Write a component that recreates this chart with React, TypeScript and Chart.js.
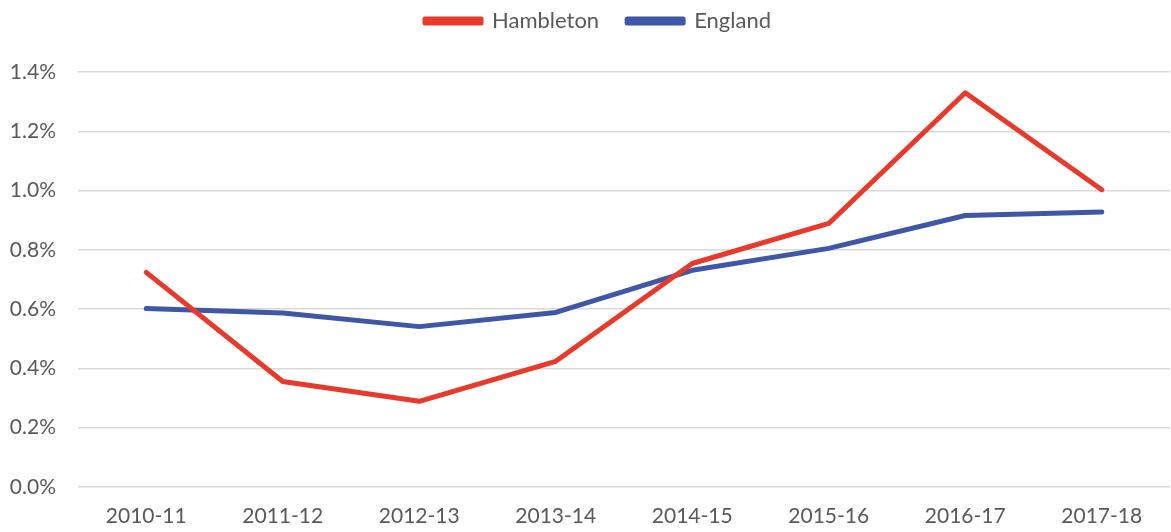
import React, { useEffect, useRef } from "react";
import { Chart, registerables } from "chart.js";

Chart.register(...registerables);

const categories = ["2010-11", "2011-12", "2012-13", "2013-14", "2014-15", "2015-16", "2016-17", "2017-18"];
const hambleton = [0.724, 0.356, 0.289, 0.424, 0.754, 0.889, 1.33, 1.003];
const england = [0.602, 0.587, 0.541, 0.589, 0.731, 0.805, 0.916, 0.928];
const yTicks = [0, 0.2, 0.4, 0.6, 0.8, 1.0, 1.2, 1.4];

const FONT = "Lato, 'Open Sans', sans-serif";
const TEXT = "#595959";
const LEGEND_EXTRA = 12;
const LEGEND_SHIFT_X = 13;
const LEGEND_SHIFT_Y = -18;

const legendSpacer = {
  id: "legendSpacer",
  beforeUpdate(chart: any) {
    const lg = chart.legend;
    if (lg && !lg.__patched) {
      const origFit = lg.fit;
      lg.fit = function () {
        origFit.call(this);
        this.height += LEGEND_EXTRA;
      };
      const origDraw = lg.draw;
      lg.draw = function () {
        const ctx = this.ctx;
        ctx.save();
        ctx.translate(LEGEND_SHIFT_X, LEGEND_SHIFT_Y);
        origDraw.call(this);
        ctx.restore();
      };
      lg.__patched = true;
    }
  },
};

export default function App() {
  const ref = useRef<HTMLCanvasElement>(null);
  useEffect(() => {
    document.body.style.margin = "0";
    const chart = new Chart(ref.current!, {
      type: "line",
      data: {
        labels: categories,
        datasets: [
          {
            label: "Hambleton",
            data: hambleton,
            borderColor: "#E8392A",
            backgroundColor: "#E8392A",
            borderWidth: 5,
            pointRadius: 0,
            tension: 0,
            borderCapStyle: "round",
            borderJoinStyle: "round",
          },
          {
            label: "England",
            data: england,
            borderColor: "#3F57A6",
            backgroundColor: "#3F57A6",
            borderWidth: 5,
            pointRadius: 0,
            tension: 0,
            borderCapStyle: "round",
            borderJoinStyle: "round",
          },
        ],
      },
      options: {
        responsive: false,
        animation: false,
        layout: { padding: { top: 0, right: 1, left: 0, bottom: 0 } },
        plugins: {
          legend: {
            position: "top",
            labels: {
              boxWidth: 56,
              boxHeight: 4,
              padding: 28,
              color: TEXT,
              font: { family: FONT, size: 22 },
            },
          },
          tooltip: { enabled: false },
        },
        scales: {
          x: {
            offset: true,
            grid: { display: false, drawTicks: false },
            border: { display: false },
            ticks: { color: TEXT, font: { family: FONT, size: 21 }, padding: 17, maxRotation: 0 },
            afterFit: (s: any) => { s.height = 45; },
          },
          y: {
            min: 0,
            max: 1.4,
            afterBuildTicks: (s: any) => { s.ticks = yTicks.map((v) => ({ value: v })); },
            grid: { color: "#D9D9D9", lineWidth: 1.5, drawTicks: false },
            border: { display: false },
            ticks: {
              color: TEXT,
              font: { family: FONT, size: 21 },
              padding: 22,
              callback: (v: any) => Number(v).toFixed(1) + "%",
            },
            afterFit: (s: any) => { s.width = 78; },
          },
        },
      },
      plugins: [legendSpacer],
    });
    return () => chart.destroy();
  }, []);
  return <canvas ref={ref} width={1171} height={532} style={{ display: "block" }} />;
}
